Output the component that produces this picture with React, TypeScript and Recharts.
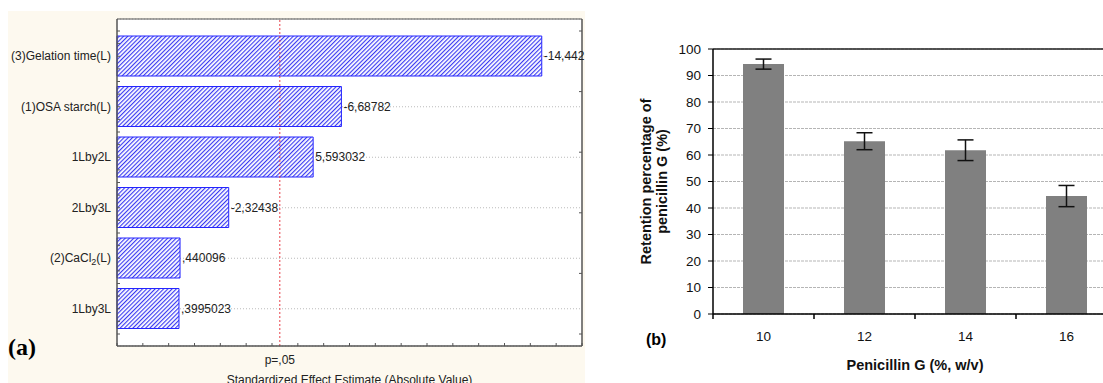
import React from 'react';
import { BarChart, Bar, XAxis, YAxis, CartesianGrid, ReferenceLine, LabelList, ErrorBar } from 'recharts';

// (a) Pareto chart of standardized effects
const effectNames = ['(3)Gelation time(L)', '(1)OSA starch(L)', '1Lby2L', '2Lby3L', '(2)CaCl₂(L)', '1Lby3L'];
const effectValues = [-14.442, -6.68782, 5.593032, -2.32438, 0.440096, 0.3995023];
const effectTicks = [-2, -1, 0, 1, 2, 3, 4, 5, 6, 7, 8, 9, 10, 11, 12, 13, 14, 15, 16];
const minorTicks = [0, 1, 2, 3, 4, 5, 6, 7, 8, 9, 10, 11, 12, 13, 14, 15, 16, 17, 18, 19, 20, 21, 22, 23, 24];
const pLimit = 4.303;

// (b) retention of penicillin G
const concentrations = ['10', '12', '14', '16'];
const retention = [94.3, 65.2, 61.8, 44.5];
const retentionError = [1.9, 3.2, 3.9, 4.0];
const retentionTicks = [0, 10, 20, 30, 40, 50, 60, 70, 80, 90, 100];

const SANS = '"Liberation Sans", Arial, sans-serif';
const effectMin = effectTicks[0];
const effectMax = effectTicks[effectTicks.length - 1];

const effectData = effectNames.map((name, i) => ({
  name,
  effect: effectValues[i],
  span: [effectMin, Math.abs(effectValues[i])],
}));

const retentionData = concentrations.map((c, i) => ({
  c,
  value: retention[i],
  err: retentionError[i],
}));

function formatEffect(v: any) {
  const s = String(v).replace('.', ',');
  return s.replace(/^(-?)0,/, '$1,');
}

const NoTick = () => <g />;

function EffectTick(props: any) {
  const { y, payload, index } = props;
  const half = payload.offset ?? 25.25;
  const q = half / 2;
  const marks = index === effectNames.length - 1 ? [-2, -1, 0, 1, 2] : [-2, -1, 0, 1];
  const parts = String(payload.value).split('₂');
  return (
    <g>
      {marks.map((m) => (
        <line key={m} x1={109} x2={112} y1={y + m * q} y2={y + m * q} stroke="#555" />
      ))}
      <text x={103} y={y} dy={4} textAnchor="end" fontSize={12} fill="#222" fontFamily={SANS}>
        {parts[0]}
        {parts.length > 1 && (
          <>
            <tspan fontSize={9} dy={3}>2</tspan>
            <tspan dy={-3}>{parts[1]}</tspan>
          </>
        )}
      </text>
    </g>
  );
}

function ConcTick(props: any) {
  const { x, y, payload } = props;
  const half = payload.offset ?? 50.5;
  return (
    <g>
      <line x1={x - half} x2={x - half} y1={y} y2={y + 5} stroke="#000" strokeWidth={1.5} />
      <text x={x} y={y + 27} textAnchor="middle" fontSize={13.5} fill="#111" fontFamily={SANS}>
        {payload.value}
      </text>
    </g>
  );
}

function ParetoChart() {
  return (
    <BarChart
      width={577}
      height={400}
      data={effectData}
      layout="vertical"
      margin={{ top: 8, right: 3, bottom: 65, left: 0 }}
    >
      <defs>
        <pattern id="hatch" width="3" height="3" patternUnits="userSpaceOnUse" patternTransform="rotate(45)">
          <rect width="3" height="3" fill="#fff" />
          <line x1="0.5" y1="0" x2="0.5" y2="3" stroke="#3a3af2" strokeWidth="1.3" />
        </pattern>
      </defs>
      <CartesianGrid vertical={false} fill="#fff" stroke="#bbb" strokeDasharray="1 2" />
      <XAxis
        type="number"
        domain={[effectMin, effectMax]}
        ticks={effectTicks}
        interval={0}
        height={1}
        mirror
        tickSize={3}
        tick={NoTick}
        stroke="#555"
        axisLine={{ stroke: '#555', strokeWidth: 1.5 }}
        label={{ value: 'Standardized Effect Estimate (Absolute Value)', position: 'insideTop', offset: 30, fill: '#222', fontSize: 12, fontFamily: SANS }}
      />
      <XAxis
        xAxisId="top"
        orientation="top"
        type="number"
        domain={[effectMin, effectMax]}
        ticks={effectTicks}
        interval={0}
        height={1}
        mirror
        tickSize={3}
        tick={NoTick}
        stroke="#555"
        axisLine={{ stroke: '#555', strokeWidth: 1.2 }}
      />
      <YAxis
        type="category"
        dataKey="name"
        width={109}
        interval={0}
        padding={{ top: 12, bottom: 12 }}
        tickLine={false}
        tick={EffectTick}
        axisLine={{ stroke: '#555', strokeWidth: 1.5 }}
      />
      <YAxis
        yAxisId="minor"
        orientation="right"
        type="number"
        domain={[0, 24]}
        ticks={minorTicks}
        interval={0}
        width={1}
        padding={{ top: 12, bottom: 12 }}
        mirror
        tickSize={3}
        tick={NoTick}
        stroke="#555"
        axisLine={{ stroke: '#555', strokeWidth: 1.5 }}
      />
      <Bar dataKey="span" barSize={40} fill="url(#hatch)" stroke="#2525ff" strokeWidth={1} isAnimationActive={false}>
        <LabelList dataKey="effect" position="right" offset={2} formatter={formatEffect} fill="#222" fontSize={12} fontFamily={SANS} />
      </Bar>
      <ReferenceLine
        x={pLimit}
        stroke="#e8414a"
        strokeDasharray="2 2"
        label={(p: any) => {
          const vb = p.viewBox || {};
          return (
            <text x={vb.x} y={(vb.y ?? 0) + (vb.height ?? 0) + 18} textAnchor="middle" fontSize={12} fill="#222" fontFamily={SANS}>
              p=,05
            </text>
          );
        }}
      />
    </BarChart>
  );
}

function RetentionChart() {
  return (
    <BarChart width={520} height={383} data={retentionData} margin={{ top: 49, right: 8, bottom: 0, left: 0 }}>
      <CartesianGrid vertical={false} stroke="#b5b5b5" strokeDasharray="3 1" />
      <XAxis
        dataKey="c"
        height={69}
        interval={0}
        tickLine={false}
        tickSize={0}
        tickMargin={0}
        tick={ConcTick}
        axisLine={{ stroke: '#000', strokeWidth: 1.5 }}
        label={{ value: 'Penicillin G (%, w/v)', position: 'insideTop', offset: 46, fill: '#111', fontSize: 14.5, fontWeight: 'bold', fontFamily: SANS }}
      />
      <YAxis
        domain={[0, 100]}
        ticks={retentionTicks}
        interval={0}
        width={108}
        tickSize={5}
        tickMargin={7}
        stroke="#000"
        tick={{ fill: '#111', fontSize: 13.5, fontFamily: SANS }}
        axisLine={{ stroke: '#000', strokeWidth: 1.5 }}
        label={(p: any) => {
          const vb = p.viewBox || {};
          const cy = (vb.y ?? 49) + (vb.height ?? 265) / 2;
          return (
            <text transform={`rotate(-90, 46, ${cy})`} x={46} y={cy} textAnchor="middle" fontSize={14.5} fontWeight="bold" fill="#111" fontFamily={SANS}>
              <tspan x={46} dy={0}>Retention percentage of</tspan>
              <tspan x={46} dy={16}>penicillin G (%)</tspan>
            </text>
          );
        }}
      />
      <Bar dataKey="value" barSize={41} fill="#808080" isAnimationActive={false}>
        <ErrorBar dataKey="err" width={8} stroke="#111" strokeWidth={1.5} isAnimationActive={false} />
      </Bar>
      <ReferenceLine y={100} stroke="#222" strokeWidth={1.5} />
    </BarChart>
  );
}

export default function App() {
  return (
    <div style={{ position: 'absolute', left: 0, top: 0, width: 1103, height: 383, overflow: 'hidden', background: '#fff' }}>
      <div style={{ position: 'absolute', left: 8, top: 11, width: 577, height: 372, overflow: 'hidden', background: '#fdf9ef' }}>
        <ParetoChart />
      </div>
      <div style={{ position: 'absolute', left: 8, top: 335, fontFamily: '"Liberation Serif", serif', fontWeight: 'bold', fontSize: 24, lineHeight: '24px' }}>
        (a)
      </div>
      <div style={{ position: 'absolute', left: 605, top: 0, width: 498, height: 383, overflow: 'hidden' }}>
        <RetentionChart />
      </div>
      <div style={{ position: 'absolute', left: 646, top: 332, fontFamily: SANS, fontWeight: 'bold', fontSize: 16, lineHeight: '16px' }}>
        (b)
      </div>
    </div>
  );
}
